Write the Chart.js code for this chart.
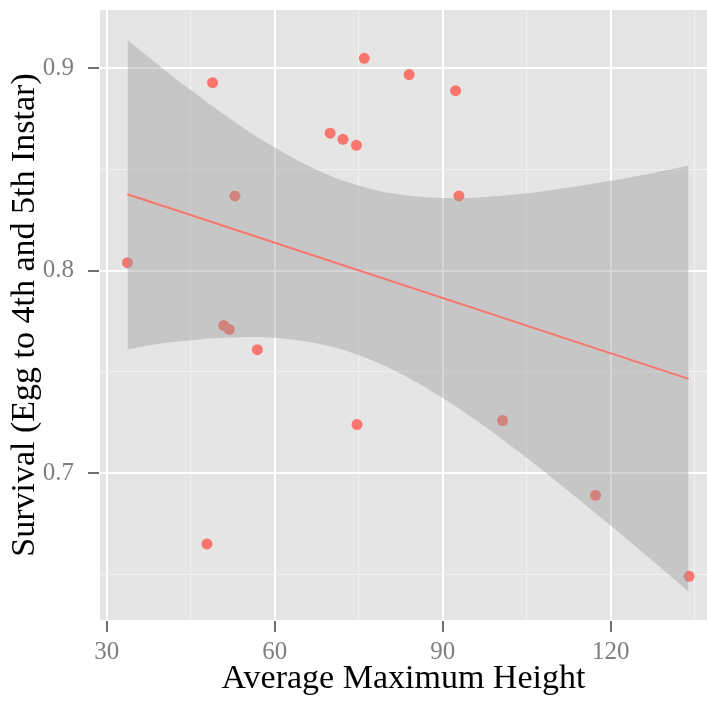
<!DOCTYPE html>
<html>
<head>
<meta charset="utf-8">
<script src="https://cdn.jsdelivr.net/npm/chart.js@4.4.1/dist/chart.umd.min.js"></script>
<style>
  body { margin: 0; background: #ffffff; }
  #chart { display: block; }
</style>
</head>
<body>
<canvas id="chart" width="707" height="703"></canvas>
<script>
// Observed points
const heights = [33.7, 48.9, 52.9, 50.9, 51.9, 56.9, 47.9, 69.9, 72.2, 74.6, 76.0, 84.0, 92.3, 92.9, 74.7, 100.7, 117.3, 134.0];
const survival = [0.804, 0.893, 0.837, 0.773, 0.771, 0.761, 0.665, 0.868, 0.865, 0.862, 0.905, 0.897, 0.889, 0.837, 0.724, 0.726, 0.689, 0.649];

// Fitted line (ends) and confidence band
const fitX = [33.7, 133.9];
const fitY = [0.8378, 0.7466];
const bandX = [33.7, 39, 45, 52, 60, 68, 75, 82, 90, 97, 105, 112, 120, 127, 133.9];
const bandUpper = [0.9142, 0.9022, 0.8893, 0.8753, 0.8609, 0.8493, 0.8421, 0.8378, 0.8360, 0.8364, 0.8383, 0.8409, 0.8445, 0.8480, 0.8520];
const bandLower = [0.7610, 0.7638, 0.7657, 0.7670, 0.7668, 0.7638, 0.7583, 0.7499, 0.7371, 0.7240, 0.7075, 0.6922, 0.6740, 0.6578, 0.6415];

// Axis ticks (grid) and the ones that get a label
const xTicks = [30, 45, 60, 75, 90, 105, 120, 135];
const xMajor = [30, 60, 90, 120];
const yTicks = [0.65, 0.7, 0.75, 0.8, 0.85, 0.9];
const yMajor = [0.7, 0.8, 0.9];

const serif = "'Liberation Serif', 'DejaVu Serif', serif";
const TICK_LEN = 12;

function toXY(xs, ys) {
    return xs.map((x, i) => ({ x: x, y: ys[i] }));
}

function isMajor(list, v) {
    return list.some(m => Math.abs(m - v) < 1e-9);
}

// Grey panel behind the grid
const panelBg = {
    id: 'panelBg',
    beforeDraw(chart) {
        const a = chart.chartArea;
        const ctx = chart.ctx;
        ctx.save();
        ctx.fillStyle = '#E5E5E5';
        ctx.fillRect(a.left, a.top, a.right - a.left, a.bottom - a.top);
        ctx.restore();
    }
};

// grey tick marks outside the panel at the labelled values
const tickMarks = {
    id: 'tickMarks',
    afterDraw(chart) {
        const a = chart.chartArea;
        const ctx = chart.ctx;
        const xs = chart.scales.x;
        const ys = chart.scales.y;
        ctx.save();
        ctx.fillStyle = '#707070';
        xMajor.forEach(v => {
            const px = Math.round(xs.getPixelForValue(v));
            ctx.fillRect(px - 1, a.bottom + 1, 2, TICK_LEN - 1);
        });
        yMajor.forEach(v => {
            const py = Math.round(ys.getPixelForValue(v));
            ctx.fillRect(a.left - TICK_LEN, py - 1, TICK_LEN - 1, 2);
        });
        ctx.restore();
    }
};

// per-tick arrays: white major lines, faint minor lines
function gridOpts(ticks, majors) {
    return {
        color: ticks.map(v => isMajor(majors, v) ? '#FFFFFF' : '#F2F2F2'),
        lineWidth: ticks.map(v => isMajor(majors, v) ? 2 : 1),
        tickColor: 'rgba(0,0,0,0)',
        tickLength: TICK_LEN,
        drawTicks: true
    };
}

// fixed box sizes, no extra label padding so the panel fills 100..707 x 10..620
function fixBox(size, horizontal) {
    return s => {
        if (horizontal) s.height = size; else s.width = size;
        s.paddingTop = 0;
        s.paddingBottom = 0;
        s.paddingLeft = 0;
        s.paddingRight = 0;
    };
}

new Chart(document.getElementById('chart'), {
    type: 'scatter',
    data: {
        datasets: [
            {
                label: 'points',
                data: toXY(heights, survival),
                backgroundColor: '#F8766D',
                borderWidth: 0,
                pointRadius: 5.5,
                order: 3
            },
            {
                label: 'upper',
                type: 'line',
                data: toXY(bandX, bandUpper),
                borderWidth: 0,
                borderColor: 'rgba(0,0,0,0)',
                pointRadius: 0,
                tension: 0.4,
                fill: '+1',
                backgroundColor: 'rgba(153,153,153,0.4)',
                order: 1
            },
            {
                label: 'lower',
                type: 'line',
                data: toXY(bandX, bandLower),
                borderWidth: 0,
                borderColor: 'rgba(0,0,0,0)',
                pointRadius: 0,
                tension: 0.4,
                fill: false,
                order: 2
            },
            {
                label: 'fit',
                type: 'line',
                data: toXY(fitX, fitY),
                borderColor: '#F8766D',
                borderWidth: 2,
                pointRadius: 0,
                fill: false,
                order: 0
            }
        ]
    },
    options: {
        responsive: false,
        animation: false,
        layout: { autoPadding: false, padding: { top: 10, right: 0, left: 0, bottom: 0 } },
        plugins: {
            legend: { display: false },
            tooltip: { enabled: false }
        },
        scales: {
            x: {
                type: 'linear',
                min: 28.8,
                max: 137.2,
                afterBuildTicks: s => { s.ticks = xTicks.map(v => ({ value: v })); },
                afterFit: fixBox(83, true),
                grid: gridOpts(xTicks, xMajor),
                border: { display: false },
                ticks: {
                    autoSkip: false,
                    maxRotation: 0,
                    padding: 5,
                    color: '#7F7F7F',
                    font: { family: serif, size: 25 },
                    callback: v => isMajor(xMajor, v) ? String(v) : ''
                },
                title: {
                    display: true,
                    text: 'Average Maximum Height',
                    color: '#000000',
                    font: { family: serif, size: 34 },
                    padding: { top: 0, bottom: 4 }
                }
            },
            y: {
                type: 'linear',
                min: 0.6274,
                max: 0.9289,
                afterBuildTicks: s => { s.ticks = yTicks.map(v => ({ value: v })); },
                afterFit: fixBox(100, false),
                grid: gridOpts(yTicks, yMajor),
                border: { display: false },
                ticks: {
                    autoSkip: false,
                    padding: 14,
                    color: '#7F7F7F',
                    font: { family: serif, size: 25 },
                    callback: v => isMajor(yMajor, v) ? v.toFixed(1) : ''
                },
                title: {
                    display: true,
                    text: 'Survival (Egg to 4th and 5th Instar)',
                    color: '#000000',
                    font: { family: serif, size: 34 },
                    padding: { top: 5, bottom: 0 }
                }
            }
        }
    },
    plugins: [panelBg, tickMarks]
});
</script>
</body>
</html>
